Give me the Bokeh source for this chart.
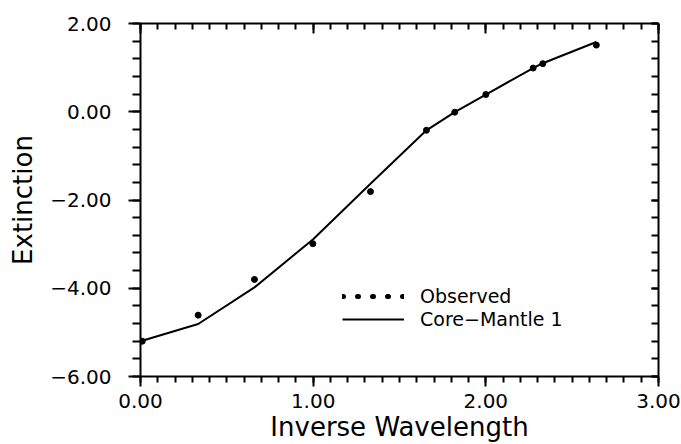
import numpy as np
from bokeh.plotting import figure
from bokeh.models import (LinearAxis, FixedTicker, Range1d, Legend, LegendItem,
                          CustomLabelingPolicy)
from bokeh.embed import file_html
from bokeh.resources import INLINE

# ---- data ----
obs_x = [0.01, 0.334, 0.66, 0.998, 1.332, 1.656, 1.82, 2.0, 2.274, 2.33, 2.64]
obs_y = [-5.20, -4.61, -3.80, -2.99, -1.81, -0.42, -0.01, 0.39, 0.99, 1.09, 1.51]
model_x = [0.0, 0.334, 0.66, 1.0, 1.332, 1.656, 1.82, 2.0, 2.274, 2.33, 2.64]
model_y = [-5.20, -4.81, -3.98, -2.89, -1.63, -0.42, -0.01, 0.39, 0.99, 1.10, 1.58]

x_ticks = [0, 1, 2, 3]
x_tick_labels = ["0.00", "1.00", "2.00", "3.00"]
y_ticks = [-6, -4, -2, 0, 2]
y_tick_labels = ["\u22126.00", "\u22124.00", "\u22122.00", "0.00", "2.00"]

x_title = "Inverse Wavelength"
y_title = "Extinction"
series_names = ["Observed", "Core\u2212Mantle 1"]

FONT = "DejaVu Sans"

p = figure(width=681, height=444, x_range=Range1d(0, 3), y_range=Range1d(-6, 2),
           output_backend="svg", toolbar_location=None,
           min_border_left=140, min_border_right=23, min_border_top=23, min_border_bottom=66)
p.xgrid.visible = False
p.ygrid.visible = False
p.outline_line_color = None
p.background_fill_color = "white"
p.border_fill_color = "white"

x_minor = [round(v, 2) for v in np.arange(0, 3.001, 0.1)]
y_minor = [round(v, 2) for v in np.arange(-6, 2.001, 0.4)]
xt = FixedTicker(ticks=x_ticks, minor_ticks=x_minor)
yt = FixedTicker(ticks=y_ticks, minor_ticks=y_minor)

no_labels = CustomLabelingPolicy(code="for (const i of indices) indices.unset(i); return indices")


def style(ax):
    ax.axis_line_width = 2
    ax.axis_line_color = "black"
    ax.major_tick_line_width = 2
    ax.minor_tick_line_width = 2
    ax.major_tick_line_color = "black"
    ax.minor_tick_line_color = "black"
    ax.major_label_text_font = FONT
    ax.axis_label_text_font = FONT
    ax.axis_label_text_font_style = "normal"
    ax.major_label_text_color = "black"
    ax.axis_label_text_color = "black"


# bottom axis
bx = p.xaxis[0]
style(bx)
bx.ticker = xt
bx.major_label_overrides = dict(zip(x_ticks, x_tick_labels))
bx.major_tick_in, bx.major_tick_out = 0, 10
bx.minor_tick_in, bx.minor_tick_out = 0, 6
bx.major_label_text_font_size = "20px"
bx.major_label_standoff = 7
bx.axis_label = x_title
bx.axis_label_text_font_size = "26px"
bx.axis_label_standoff = 1

# left axis
ly = p.yaxis[0]
style(ly)
ly.ticker = yt
ly.major_label_overrides = dict(zip(y_ticks, y_tick_labels))
ly.major_tick_in, ly.major_tick_out = 0, 12
ly.minor_tick_in, ly.minor_tick_out = 0, 8
ly.major_label_text_font_size = "20px"
ly.major_label_standoff = 17
ly.axis_label = y_title
ly.axis_label_text_font_size = "26px"
ly.axis_label_standoff = 9

# top axis (ticks inward, no labels)
tx = LinearAxis(ticker=FixedTicker(ticks=x_ticks, minor_ticks=x_minor), major_label_policy=no_labels)
style(tx)
tx.major_tick_in, tx.major_tick_out = 10, 0
tx.minor_tick_in, tx.minor_tick_out = 6, 0
tx.major_label_standoff = 0
p.add_layout(tx, "above")

# right axis (ticks inward, no labels)
ry = LinearAxis(ticker=FixedTicker(ticks=y_ticks, minor_ticks=y_minor), major_label_policy=no_labels)
style(ry)
ry.major_tick_in, ry.major_tick_out = 7, 0
ry.minor_tick_in, ry.minor_tick_out = 7, 0
ry.major_label_standoff = 0
p.add_layout(ry, "right")

# model curve and observed points
model_line = p.line(model_x, model_y, line_color="black", line_width=2)
p.scatter(obs_x, obs_y, size=6, color="black")

# legend glyph for the observed series: a row of dots (nothing drawn in the frame)
dots = p.line(x=[float("nan")], y=[float("nan")], line_color="black", line_width=5,
              line_dash="1 14", line_cap="round")

legend = Legend(items=[LegendItem(label=series_names[0], renderers=[dots]),
                       LegendItem(label=series_names[1], renderers=[model_line])],
                location=(202, 46), glyph_width=62, glyph_height=20, label_height=20,
                label_standoff=16, spacing=1, padding=0, margin=0,
                border_line_color=None, background_fill_alpha=0,
                label_text_font=FONT, label_text_font_size="19px", label_text_color="black")
p.add_layout(legend)

open("out.html", "w").write(file_html(p, INLINE))
